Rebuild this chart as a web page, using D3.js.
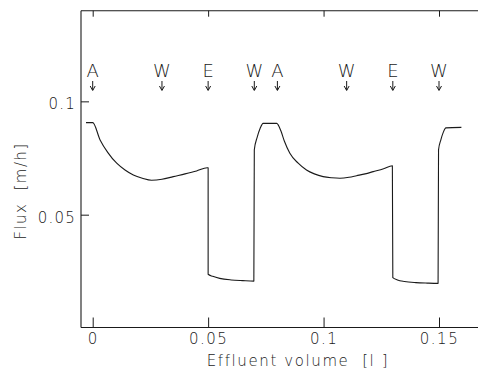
<!DOCTYPE html>
<html>
<head>
<meta charset="utf-8">
<script src="https://cdn.jsdelivr.net/npm/d3@7"></script>
<style>
  body { margin: 0; background: #fff; }
  svg text { font-family: "DejaVu Sans", sans-serif; fill: #1a1a1a; font-weight: 300; white-space: pre; }
</style>
</head>
<body>
<div id="app"></div>
<script>
// flux curve (effluent volume [l], flux [m/h])
const volume = [-0.0029, 0.0, 0.0032, 0.0065, 0.0104, 0.0140, 0.0176, 0.0215, 0.0255, 0.0300, 0.0349, 0.0400, 0.0450, 0.0496,
  0.0500, 0.0500, 0.0520, 0.0550, 0.0600, 0.0650, 0.0698,
  0.0700, 0.0712, 0.0725, 0.0738, 0.0797,
  0.0815, 0.0830, 0.0854, 0.0890, 0.0926, 0.0960, 0.0998, 0.1035, 0.1071, 0.1110, 0.1143, 0.1180, 0.1215, 0.1260, 0.1298,
  0.1300, 0.1320, 0.1350, 0.1400, 0.1450, 0.1496,
  0.1498, 0.1508, 0.1518, 0.1530, 0.1597];
const flux = [0.0906, 0.0906, 0.0830, 0.0775, 0.0727, 0.0697, 0.0675, 0.0661, 0.0652, 0.0656, 0.0668, 0.0680, 0.0693, 0.0707,
  0.0707, 0.0237, 0.0228, 0.0219, 0.0212, 0.0209, 0.0207,
  0.0786, 0.0840, 0.0880, 0.0903, 0.0903,
  0.0870, 0.0825, 0.0771, 0.0727, 0.0697, 0.0680, 0.0668, 0.0663, 0.0661, 0.0665, 0.0672, 0.0680, 0.0690, 0.0703, 0.0716,
  0.0222, 0.0212, 0.0205, 0.0200, 0.0198, 0.0197,
  0.0786, 0.0830, 0.0862, 0.0883, 0.0885];

// events marked above the curve
const eventLabels = ["A", "W", "E", "W", "A", "W", "E", "W"];
const eventVolumes = [0.0, 0.03, 0.05, 0.07, 0.08, 0.11, 0.13, 0.15];

const xTicks = [0, 0.05, 0.1, 0.15];
const xTickLabels = ["0", "0.05", "0.1", "0.15"];
const yTicks = [0.05, 0.1];
const yTickLabels = ["0.05", "0.1"];

const W = 478, H = 371;
const frameL = 81, frameT = 10.7, frameB = 327.5, frameR = 478;

const svg = d3.select("#app").append("svg")
  .attr("width", W).attr("height", H);

const x = d3.scaleLinear().domain([0, 0.15]).range([92.7, 439]);
const y = d3.scaleLinear().domain([0, 0.14]).range([328, 10.7]);

const ink = "#1a1a1a";

// frame: left, top and bottom lines (right side is cut off)
const frame = svg.append("g").attr("stroke", ink).attr("stroke-width", 1.1).attr("fill", "none");
frame.append("line").attr("x1", frameL).attr("x2", frameL).attr("y1", frameT).attr("y2", frameB);
frame.append("line").attr("x1", frameL).attr("x2", frameR).attr("y1", frameT).attr("y2", frameT);
frame.append("line").attr("x1", frameL).attr("x2", frameR).attr("y1", frameB).attr("y2", frameB);

// bottom axis with inward ticks
const xAxis = svg.append("g")
  .attr("transform", `translate(0,${frameB})`)
  .call(d3.axisBottom(x).tickValues(xTicks).tickSizeInner(-10).tickSizeOuter(0)
    .tickFormat((d, i) => xTickLabels[i]));
xAxis.select(".domain").remove();
xAxis.selectAll("line").attr("stroke", ink);
xAxis.selectAll("text").attr("font-size", 15).attr("letter-spacing", 1.5)
  .attr("y", 16).attr("dy", 0);

// top ticks
const xTop = svg.append("g")
  .attr("transform", `translate(0,${frameT})`)
  .call(d3.axisTop(x).tickValues(xTicks).tickSizeInner(-6).tickSizeOuter(0).tickFormat(""));
xTop.select(".domain").remove();
xTop.selectAll("line").attr("stroke", ink);

// left axis
const yAxis = svg.append("g")
  .attr("transform", `translate(${frameL},0)`)
  .call(d3.axisLeft(y).tickValues(yTicks).tickSizeInner(-8).tickSizeOuter(0)
    .tickFormat((d, i) => yTickLabels[i]));
yAxis.select(".domain").remove();
yAxis.selectAll("line").attr("stroke", ink);
yAxis.selectAll("text").attr("font-size", 15).attr("letter-spacing", 1.2)
  .attr("x", -5).attr("dy", "0.5em");

// flux curve
const pts = volume.map((v, i) => [v, flux[i]]);
svg.append("path")
  .datum(pts)
  .attr("fill", "none")
  .attr("stroke", ink)
  .attr("stroke-width", 1.1)
  .attr("stroke-linejoin", "round")
  .attr("d", d3.line().x(d => x(d[0])).y(d => y(d[1])).curve(d3.curveMonotoneX));

// event letters and arrows
const ev = svg.append("g").selectAll("g")
  .data(eventLabels.map((l, i) => ({ label: l, v: eventVolumes[i] })))
  .enter().append("g")
  .attr("transform", d => `translate(${x(d.v)},0)`);

ev.append("text")
  .attr("y", 77)
  .attr("text-anchor", "middle")
  .attr("font-size", 18)
  .text(d => d.label);

ev.append("line")
  .attr("y1", 81).attr("y2", 90)
  .attr("stroke", ink).attr("stroke-width", 1);
ev.append("path")
  .attr("d", "M-2.5,86 L0,90.5 L2.5,86")
  .attr("fill", "none").attr("stroke", ink).attr("stroke-width", 1);

// axis titles
svg.append("text")
  .attr("x", 298).attr("y", 366)
  .attr("text-anchor", "middle")
  .attr("font-size", 15)
  .attr("letter-spacing", 1.6)
  .text("Effluent volume  [l ]");

svg.append("text")
  .attr("transform", "translate(26,191) rotate(-90)")
  .attr("text-anchor", "middle")
  .attr("font-size", 15)
  .attr("letter-spacing", 1.4)
  .text("Flux  [m/h]");
</script>
</body>
</html>
